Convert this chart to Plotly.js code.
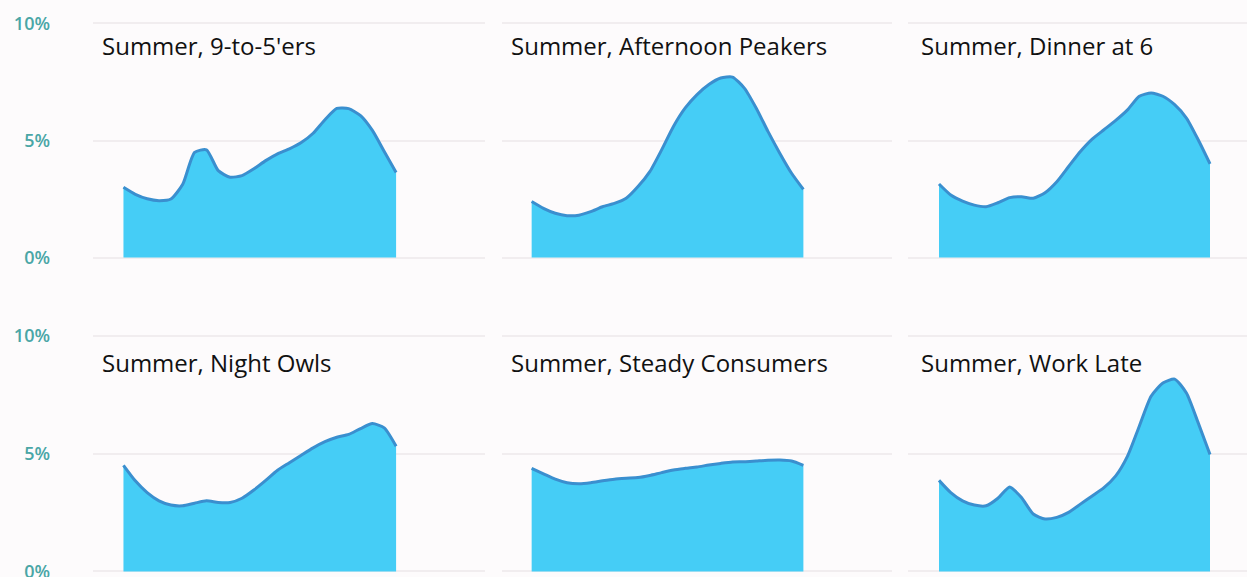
<!DOCTYPE html>
<html>
<head>
<meta charset="utf-8">
<script src="https://cdn.plot.ly/plotly-3.0.1.min.js"></script>
<style>html,body{margin:0;padding:0;background:#fdfbfc;}#chart{width:1247px;height:577px;}</style>
</head>
<body>
<div id="chart"></div>
<script>
var hours = [0,1,2,3,4,5,6,7,8,9,10,11,12,13,14,15,16,17,18,19,20,21,22,23];
var titles = ["Summer, 9-to-5'ers","Summer, Afternoon Peakers","Summer, Dinner at 6","Summer, Night Owls","Summer, Steady Consumers","Summer, Work Late"];
var nineToFive = [3.0,2.7,2.51,2.43,2.5,3.13,4.49,4.6,3.71,3.43,3.5,3.79,4.14,4.43,4.64,4.91,5.31,5.89,6.37,6.36,6.06,5.43,4.53,3.63];
var afternoonPeakers = [2.39,2.1,1.89,1.79,1.81,1.96,2.17,2.31,2.53,3.03,3.67,4.6,5.6,6.39,6.96,7.39,7.67,7.71,7.24,6.39,5.39,4.46,3.6,2.91];
var dinnerAt6 = [3.14,2.67,2.41,2.24,2.17,2.34,2.56,2.6,2.53,2.77,3.24,3.89,4.53,5.06,5.46,5.86,6.31,6.89,7.03,6.89,6.53,5.96,5.03,4.0];
var nightOwls = [4.51,3.85,3.35,3.0,2.82,2.79,2.9,3.0,2.93,2.93,3.11,3.46,3.87,4.3,4.62,4.94,5.25,5.51,5.7,5.82,6.07,6.28,6.1,5.32];
var steadyConsumers = [4.38,4.15,3.92,3.77,3.73,3.77,3.85,3.92,3.96,3.99,4.08,4.2,4.31,4.38,4.44,4.52,4.59,4.65,4.66,4.69,4.72,4.73,4.69,4.51];
var workLate = [3.87,3.35,3.0,2.82,2.79,3.11,3.59,3.14,2.44,2.23,2.3,2.51,2.86,3.21,3.56,4.06,4.9,6.17,7.44,8.0,8.17,7.58,6.31,4.97];
var yTickVals = [0,5,10];
var yTickText = ["0%","5%","10%"];

var series = [nineToFive, afternoonPeakers, dinnerAt6, nightOwls, steadyConsumers, workLate];
var W = 1247, H = 577;
var colPx = [[93,485],[502,892],[908,1247]];
var colRange = [[-2.57,30.5],[-2.51,30.5],[-2.63,26.14]];
var rowDom = [[1-262.2/H, 1-18.8/H],[1-576.2/H, 1-331.3/H]];
var titlePx = [100, 509, 919];
var titleY = [45, 362];

var data = [];
var layout = {
  width: W, height: H,
  margin: {l:0, r:0, t:0, b:0},
  paper_bgcolor: '#fdfbfc',
  plot_bgcolor: '#fdfbfc',
  showlegend: false,
  font: {family: '"Open Sans", sans-serif'},
  annotations: []
};

for (var i = 0; i < 6; i++) {
  var r = Math.floor(i/3), c = i % 3;
  var n = i + 1;
  var xa = 'xaxis' + (n === 1 ? '' : n), ya = 'yaxis' + (n === 1 ? '' : n);
  data.push({
    x: hours, y: series[i], type: 'scatter', mode: 'lines',
    fill: 'tozeroy', fillcolor: '#45cdf6',
    line: {color: '#3a8fcf', width: 3, shape: 'spline', smoothing: 0.6},
    xaxis: 'x' + (n === 1 ? '' : n), yaxis: 'y' + (n === 1 ? '' : n),
    hoverinfo: 'skip'
  });
  layout[xa] = {
    domain: [colPx[c][0]/W, colPx[c][1]/W], range: colRange[c],
    showgrid: false, zeroline: false, showticklabels: false, showline: false, fixedrange: true,
    anchor: 'y' + (n === 1 ? '' : n)
  };
  layout[ya] = {
    domain: rowDom[r], range: [-0.2, 10.2],
    tickvals: yTickVals, ticktext: yTickText,
    showticklabels: c === 0, ticklabelstandoff: 42, ticklabeloverflow: 'allow',
    tickfont: {color: '#4aa6a6', size: 18, weight: 600, family: '"Open Sans", sans-serif'},
    gridcolor: '#f1edef', gridwidth: 2, zeroline: false, showline: false, fixedrange: true,
    anchor: 'x' + (n === 1 ? '' : n)
  };
  layout.annotations.push({
    text: titles[i], xref: 'paper', yref: 'paper',
    x: titlePx[c]/W, y: 1 - titleY[r]/H, xanchor: 'left', yanchor: 'middle',
    showarrow: false, font: {size: 24, weight: 500, color: '#111111', family: '"Open Sans", sans-serif'}
  });
}

Plotly.newPlot('chart', data, layout, {displayModeBar: false, staticPlot: true});
</script>
</body>
</html>
